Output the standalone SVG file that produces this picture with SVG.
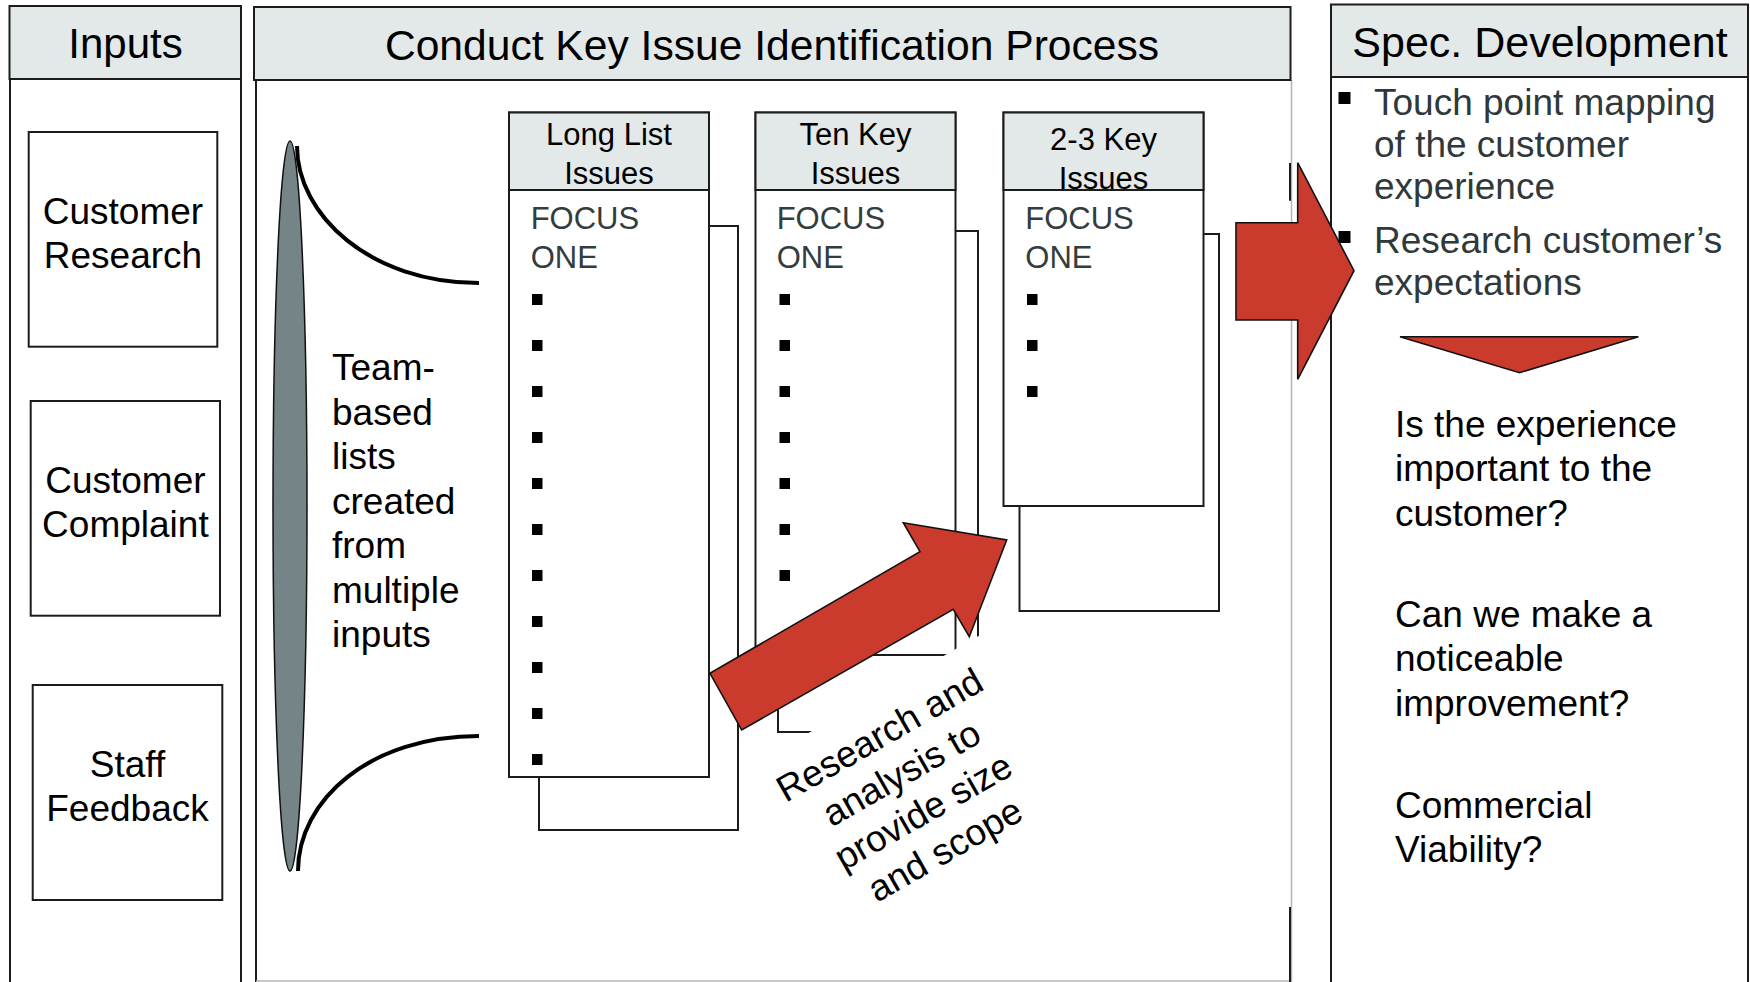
<svg xmlns="http://www.w3.org/2000/svg" width="1750" height="982" viewBox="0 0 1750 982">
  <style>
    .hdr { fill: #e3e8e8; stroke: #1c1c1c; stroke-width: 2; }
    .box { fill: #ffffff; stroke: #1c1c1c; stroke-width: 2; }
    .edge { stroke: #1c1c1c; stroke-width: 2; fill: none; }
    .faint { stroke: #b4b4b4; stroke-width: 1.5; fill: none; }
    .curve { stroke: #000000; stroke-width: 4; fill: none; }
    .red { fill: #cb3b2d; stroke: #111111; stroke-width: 1.6; stroke-linejoin: miter; }
    .dot { fill: #000000; }
    text { font-family: "Liberation Sans", Arial, sans-serif; fill: #000000; }
    .title { font-size: 42px; text-anchor: middle; }
    .label { font-size: 37px; text-anchor: middle; }
    .body { font-size: 37px; }
    .slate { fill: #2f3939; }
    .list-hdr { font-size: 31px; text-anchor: middle; }
    .focus { font-size: 31px; fill: #333d3d; }
  </style>

  <rect width="1750" height="982" fill="#ffffff"/>

  <!-- Inputs column -->
  <g id="inputs-panel">
    <rect class="box" x="10" y="79" width="231" height="920"/>
    <rect class="hdr" x="9.5" y="6" width="231.5" height="73"/>
    <text class="title" x="125.5" y="58">Inputs</text>
  </g>

  <g id="customer-research">
    <rect class="box" x="28.7" y="132" width="188.6" height="214.7"/>
    <text class="label" x="123" y="224">Customer</text>
    <text class="label" x="123" y="268">Research</text>
  </g>

  <g id="customer-complaint">
    <rect class="box" x="30.7" y="401" width="189.3" height="214.7"/>
    <text class="label" x="125.4" y="492.7">Customer</text>
    <text class="label" x="125.4" y="536.7">Complaint</text>
  </g>

  <g id="staff-feedback">
    <rect class="box" x="32.7" y="685" width="189.6" height="215"/>
    <text class="label" x="127.5" y="776.7">Staff</text>
    <text class="label" x="127.5" y="820.7">Feedback</text>
  </g>

  <!-- Process column -->
  <g id="process-panel">
    <line class="edge" x1="256" y1="80" x2="256" y2="982"/>
    <line class="faint" x1="1291.5" y1="80" x2="1291.5" y2="982"/>
    <line class="faint" x1="256" y1="981" x2="1291.5" y2="981"/>
    <line class="edge" x1="1290" y1="163" x2="1290" y2="200.7"/>
    <line class="edge" x1="1290" y1="907" x2="1290" y2="982"/>
    <rect class="hdr" x="254" y="7" width="1036.5" height="73"/>
    <text class="title" x="772" y="60" style="font-size:42.6px">Conduct Key Issue Identification Process</text>
  </g>

  <!-- funnel of team inputs -->
  <g id="team-lists">
    <ellipse cx="290" cy="506" rx="17" ry="365" fill="#758587" stroke="#111111" stroke-width="1.5"/>
    <path class="curve" d="M297,146 C297,215 370,283 479,283"/>
    <path class="curve" d="M298,871 C298,800 370,736 479,736"/>
    <text class="body" x="332" y="380">Team-</text>
    <text class="body" x="332" y="424.5">based</text>
    <text class="body" x="332" y="469">lists</text>
    <text class="body" x="332" y="513.5">created</text>
    <text class="body" x="332" y="558">from</text>
    <text class="body" x="332" y="602.5">multiple</text>
    <text class="body" x="332" y="647">inputs</text>
  </g>

  <g id="long-list">
    <rect class="box" x="539" y="226" width="199" height="604"/>
    <rect class="box" x="509" y="112.5" width="200" height="664.5"/>
    <rect class="hdr" x="509" y="112.5" width="200" height="77.5"/>
    <text class="list-hdr" x="609" y="145">Long List</text>
    <text class="list-hdr" x="609" y="183.5">Issues</text>
    <text class="focus" x="530.7" y="229.3">FOCUS</text>
    <text class="focus" x="530.7" y="267.7">ONE</text>
    <g class="dot">
      <rect x="532" y="294" width="10.5" height="11"/>
      <rect x="532" y="340" width="10.5" height="11"/>
      <rect x="532" y="386" width="10.5" height="11"/>
      <rect x="532" y="432" width="10.5" height="11"/>
      <rect x="532" y="478" width="10.5" height="11"/>
      <rect x="532" y="524" width="10.5" height="11"/>
      <rect x="532" y="570" width="10.5" height="11"/>
      <rect x="532" y="616" width="10.5" height="11"/>
      <rect x="532" y="662" width="10.5" height="11"/>
      <rect x="532" y="708" width="10.5" height="11"/>
      <rect x="532" y="754" width="10.5" height="11"/>
    </g>
  </g>

  <g id="ten-key">
    <rect class="box" x="778" y="231" width="200" height="501"/>
    <rect class="box" x="755.5" y="112.5" width="200" height="542.5"/>
    <rect class="hdr" x="755.5" y="112.5" width="200" height="77.5"/>
    <text class="list-hdr" x="855.5" y="145">Ten Key</text>
    <text class="list-hdr" x="855.5" y="183.5">Issues</text>
    <text class="focus" x="776.7" y="229.3">FOCUS</text>
    <text class="focus" x="776.7" y="267.7">ONE</text>
    <g class="dot">
      <rect x="779.5" y="294" width="10.5" height="11"/>
      <rect x="779.5" y="340" width="10.5" height="11"/>
      <rect x="779.5" y="386" width="10.5" height="11"/>
      <rect x="779.5" y="432" width="10.5" height="11"/>
      <rect x="779.5" y="478" width="10.5" height="11"/>
      <rect x="779.5" y="524" width="10.5" height="11"/>
      <rect x="779.5" y="570" width="10.5" height="11"/>
    </g>
  </g>

  <g id="key-2-3">
    <rect class="box" x="1019.5" y="234" width="199.5" height="377"/>
    <rect class="box" x="1003.5" y="112.5" width="200" height="393.5"/>
    <rect class="hdr" x="1003.5" y="112.5" width="200" height="77.5"/>
    <text class="list-hdr" x="1103.5" y="150">2-3 Key</text>
    <text class="list-hdr" x="1103.5" y="188.5">Issues</text>
    <text class="focus" x="1025.3" y="229.3">FOCUS</text>
    <text class="focus" x="1025.3" y="267.7">ONE</text>
    <g class="dot">
      <rect x="1027" y="294" width="10.5" height="11"/>
      <rect x="1027" y="340" width="10.5" height="11"/>
      <rect x="1027" y="386" width="10.5" height="11"/>
    </g>
  </g>

  <!-- slanted caption on a white text box -->
  <g id="research-note" transform="translate(913.75,796.8) rotate(-29.7)">
    <rect x="-140" y="-107.5" width="285" height="215" fill="#ffffff"/>
    <text class="label" x="1" y="-58">Research and</text>
    <text class="label" x="1" y="-14">analysis to</text>
    <text class="label" x="1" y="30">provide size</text>
    <text class="label" x="1" y="74">and scope</text>
  </g>

  <!-- Spec. Development column -->
  <g id="spec-panel">
    <line class="edge" x1="1331" y1="77" x2="1331" y2="982"/>
    <line class="edge" x1="1748" y1="77" x2="1748" y2="982"/>
    <rect class="hdr" x="1331" y="4.5" width="417" height="72.5"/>
    <text class="title" x="1540" y="57" style="font-size:43px">Spec. Development</text>
    <rect class="dot" x="1338.5" y="92" width="12" height="12"/>
    <rect class="dot" x="1338.5" y="231" width="12" height="12"/>
    <text class="body slate" x="1374" y="115">Touch point mapping</text>
    <text class="body slate" x="1374" y="157">of the customer</text>
    <text class="body slate" x="1374" y="199">experience</text>
    <text class="body slate" x="1374" y="253">Research customer’s</text>
    <text class="body slate" x="1374" y="295">expectations</text>
    <polygon class="red" points="1400,336.7 1638.4,336.7 1519.5,372.7"/>
    <text class="body" x="1395" y="436.7">Is the experience</text>
    <text class="body" x="1395" y="481.2">important to the</text>
    <text class="body" x="1395" y="525.5">customer?</text>
    <text class="body" x="1395" y="626.7">Can we make a</text>
    <text class="body" x="1395" y="671.2">noticeable</text>
    <text class="body" x="1395" y="715.5">improvement?</text>
    <text class="body" x="1395" y="818">Commercial</text>
    <text class="body" x="1395" y="862">Viability?</text>
  </g>

  <!-- block arrows -->
  <g id="connectors">
    <polygon class="red" points="710,673.3 920,551.7 903.3,522.7 1006.7,540 969.3,636.7 953.3,609.3 741.7,730"/>
    <polygon class="red" points="1236,222.7 1297.7,222.7 1297.7,162.7 1354,270.7 1297.7,379.3 1297.7,320 1236,320"/>
  </g>
</svg>
